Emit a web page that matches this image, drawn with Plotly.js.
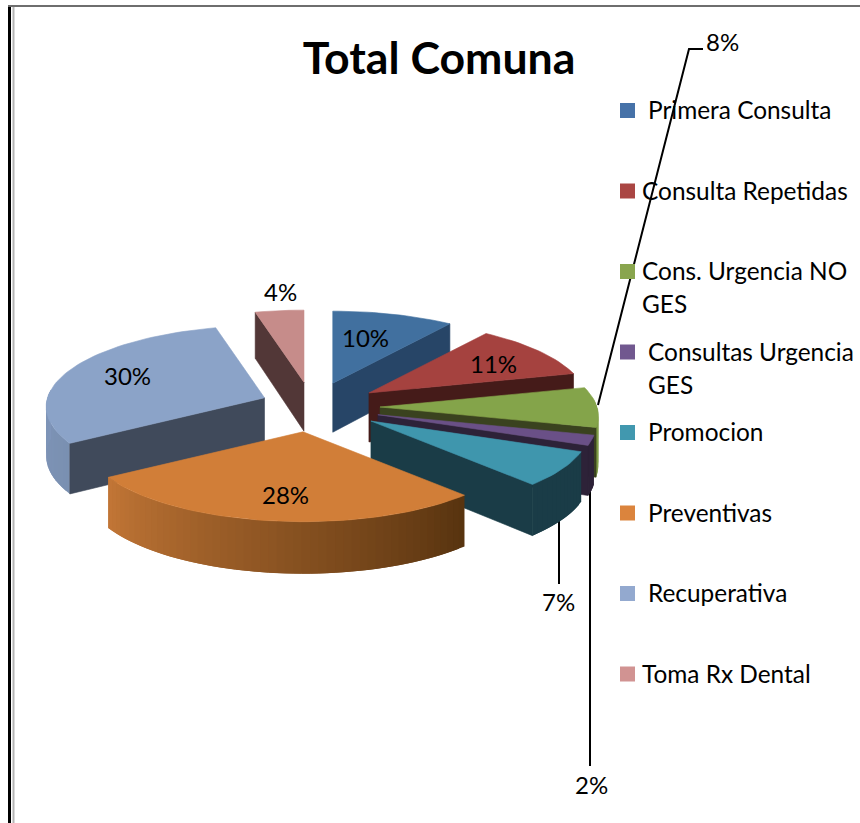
<!DOCTYPE html>
<html>
<head>
<meta charset="utf-8">
<script src="https://cdn.plot.ly/plotly-3.0.1.min.js"></script>
<style>html,body{margin:0;padding:0;background:#fff}#c{width:860px;height:823px}</style>
</head>
<body>
<div id="c"></div>
<script>
// ---- data ----
var categories = ["Primera Consulta","Consulta Repetidas","Cons. Urgencia NO GES","Consultas Urgencia GES","Promocion","Preventivas","Recuperativa","Toma Rx Dental"];
var shares = [10,11,8,2,7,28,30,4];
var legendLines = [["Primera Consulta"],["Consulta Repetidas"],["Cons. Urgencia NO","GES"],["Consultas Urgencia","GES"],["Promocion"],["Preventivas"],["Recuperativa"],["Toma Rx Dental"]];
var chartTitle = "Total Comuna";

// ---- colours ----
var topColors  = ["#41709f","#a5423f","#84a44a","#6a5087","#3f96ad","#d17e38","#8ba3c8","#c68c8a"];
var wallColors = ["#274567","#451b19","#3a421f","#2d2238","#1a3c47","#6b3f18","#404a5b","#523737"];
var rimStart   = ["#274567","#451b19","#7f9c48","#2d2238","#1a3c47","#57330f","#7a90b1","#523737"];
var rimEnd     = ["#274567","#451b19","#7f9c48","#2d2238","#1a3c47","#c27636","#7f95b9","#523737"];
var legendColors = ["#4672a8","#aa4643","#89a54e","#71588f","#4198af","#db843d","#93a9cf","#d19392"];

// ---- projection of the tilted, exploded pie onto the plot axes ----
var CX=318, CY=407, RX=217, RY=80, PERSP=0.11, EXX=64, EXY=25;
var NUDGE_X=[-5,-2,-2,-1,0,-7,6,-6];
var RAD=Math.PI/180;
function pt(apex,deg,r){
  var X=r*Math.sin(deg*RAD), Y=r*Math.cos(deg*RAD), d=1+PERSP*Y;
  return [apex[0]+RX*X/d, apex[1]-RY*Y/d, 49-3*Y];
}
function hex(c){return [parseInt(c.substr(1,2),16),parseInt(c.substr(3,2),16),parseInt(c.substr(5,2),16)];}
function mix(a,b,t){var p=hex(a),q=hex(b);return "rgb("+[0,1,2].map(function(i){return Math.round(p[i]+(q[i]-p[i])*t);}).join(",")+")";}

var total=shares.reduce(function(a,b){return a+b;},0), cum=0;
var slices=categories.map(function(n,i){
  var a=cum/total*360; cum+=shares[i]; var b=cum/total*360, m=(a+b)/2;
  return {i:i,a:a,b:b,m:m,apex:[CX+EXX*Math.sin(m*RAD)+NUDGE_X[i],CY-EXY*Math.cos(m*RAD)]};
});
var drawOrder=[7,0,1,2,3,4,6,5];
var traces=[];
function poly(pts,color,lw){
  traces.push({type:"scatter",mode:"lines",x:pts.map(function(p){return p[0];}).concat([pts[0][0]]),
    y:pts.map(function(p){return p[1];}).concat([pts[0][1]]),fill:"toself",fillcolor:color,
    line:{color:color,width:lw===undefined?0.6:lw},hoverinfo:"skip",showlegend:false});
}
function seg(xs,ys){
  traces.push({type:"scatter",mode:"lines",x:xs,y:ys,line:{color:"#000",width:2},hoverinfo:"skip",showlegend:false});
}
// leader lines sit behind the pie
seg([598,689,703],[405,49,49]);
seg([590,590],[480,766]);
seg([559,559],[520,584]);

function wall(s,deg){
  var q=pt(s.apex,deg,1), o=pt(s.apex,deg,0);
  poly([[s.apex[0],s.apex[1]],[q[0],q[1]],[q[0],q[1]+q[2]],[s.apex[0],s.apex[1]+o[2]]],wallColors[s.i]);
}
drawOrder.forEach(function(i){
  var s=slices[i];
  // outer rim, facing the viewer only: each strip runs under the next so no seams show
  var lo=Math.max(s.a,84), hi=Math.min(s.b,276), step=2;
  if(hi>lo){
    var n=Math.ceil((hi-lo)/step);
    for(var k=0;k<n;k++){
      var d0=lo+(hi-lo)*k/n, d1=Math.min(hi,lo+(hi-lo)*(k+2)/n);
      var pts=[], bot=[];
      for(var e=0;e<=4;e++){
        var p=pt(s.apex,d0+(d1-d0)*e/4,1);
        pts.push([p[0],p[1]]); bot.unshift([p[0],p[1]+p[2]]);
      }
      poly(pts.concat(bot),mix(rimStart[i],rimEnd[i],(k+0.5)/n),0);
    }
  }
  // cut faces that turn toward the viewer
  if(Math.sin(s.a*RAD)<-1e-6) wall(s,s.a);
  if(Math.sin(s.b*RAD)>1e-6) wall(s,s.b);
  // top face
  var top=[s.apex];
  for(var d=s.a;d<s.b;d+=2) top.push(pt(s.apex,d,1));
  top.push(pt(s.apex,s.b,1));
  poly(top,topColors[i]);
});

// legend swatches
var LEG_Y0=110.5, LEG_DY=80.5, LEG_X=627.5;
traces.push({type:"scatter",mode:"markers",
  x:categories.map(function(){return LEG_X;}),
  y:categories.map(function(c,i){return LEG_Y0+i*LEG_DY;}),
  marker:{symbol:"square",size:15,color:legendColors,line:{width:0}},hoverinfo:"skip",showlegend:false});

// text
var FONT="Lato, 'Open Sans', sans-serif", FS=24.4;
var ann=[];
function txt(t,x,y,anchor,size){
  ann.push({text:t,x:x,y:y,xref:"x",yref:"y",xanchor:anchor,yanchor:"middle",showarrow:false,
    font:{family:FONT,size:size||FS,color:"#000"}});
}
var legendX=[646,640,640,646,646,646,646,640];
legendLines.forEach(function(lines,i){
  lines.forEach(function(l,j){ txt(l,legendX[i],LEG_Y0+i*LEG_DY+j*33-1,"left"); });
});
var labelPos=[[365,337],[493,363],[722,41],[591,784],[558,601],[285,494],[127,375],[280,291]];
shares.forEach(function(v,i){ txt(Math.round(v/total*100)+"%",labelPos[i][0],labelPos[i][1],"center",24); });

var layout={
  width:860,height:823,margin:{l:0,r:0,t:0,b:0},paper_bgcolor:"#fff",plot_bgcolor:"#fff",showlegend:false,
  title:{text:chartTitle,font:{family:FONT,size:44.6,color:"#000",weight:"bold"},x:0.5105,xanchor:"center",xref:"paper",y:1-58/823,yanchor:"middle",yref:"container"},
  xaxis:{range:[0,860],visible:false,fixedrange:true},
  yaxis:{range:[823,0],visible:false,fixedrange:true},
  annotations:ann,
  shapes:[
    {type:"line",xref:"x",yref:"y",x0:9.5,x1:9.5,y0:5,y1:823,line:{color:"#000",width:3}},
    {type:"line",xref:"x",yref:"y",x0:13.5,x1:13.5,y0:7,y1:823,line:{color:"#b5b5b5",width:2}},
    {type:"line",xref:"x",yref:"y",x0:8,x1:860,y0:6,y1:6,line:{color:"#6e6e6e",width:2}}
  ]
};
Plotly.newPlot("c",traces,layout,{displayModeBar:false,staticPlot:true});
</script>
</body>
</html>
